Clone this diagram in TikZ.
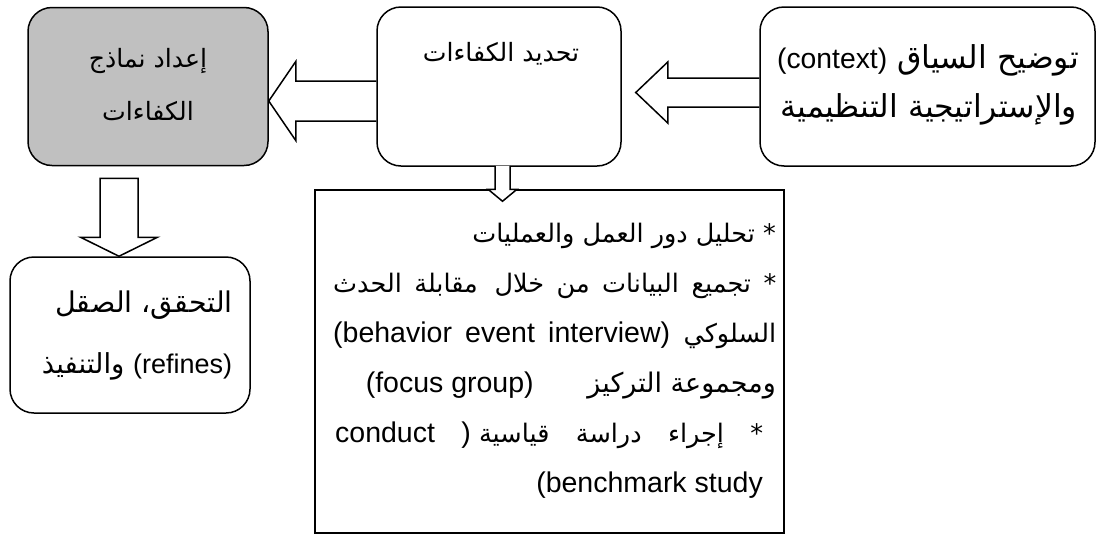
\documentclass[tikz,border=0pt]{standalone}
\usepackage{fontspec}
\setmainfont{Liberation Sans}
\newfontfamily\ar[Script=Arabic]{DejaVu Sans}
\TeXXeTstate=1
\usetikzlibrary{calc,backgrounds}
\definecolor{boxgray}{RGB}{192,192,192}
% Arabic at a given size; embedded Latin runs
\newcommand\ars[1]{\fontsize{#1}{#1}\selectfont\ar}
\newcommand\lr[2]{{\beginL\fontsize{#1}{#1}\selectfont\rmfamily #2\endL}}

\begin{document}
\begin{tikzpicture}[x=1pt,y=-1pt,
  box/.style={draw, line width=1.5pt, rounded corners=24pt, inner sep=0pt},
  plainbox/.style={draw, line width=1.5pt, inner sep=0pt},
  hollow/.style={draw, fill=white, line width=1.5pt, line join=miter},
  txt/.style={inner sep=0pt, anchor=base},
]
\useasboundingbox (0,0) rectangle (1097,536);

% process boxes
\node[box, fill=boxgray, minimum width=240pt, minimum height=158pt] (prep) at (148,86.5) {};
\node[box, minimum width=244pt, minimum height=159pt] (ident) at (499,86.5) {};
\node[box, minimum width=335pt, minimum height=159pt] (ctx) at (927.5,86.5) {};
\node[box, minimum width=240pt, minimum height=156pt] (refine) at (130,335) {};
\node[plainbox, minimum width=469pt, minimum height=343pt] (list) at (549.5,361.5) {};

% hollow block arrows behind the boxes
\begin{pgfonlayer}{background}
  % context -> identification
  \coordinate (a1s) at ($(ctx.west)+(0,6)$);
  \coordinate (a1t) at ($(ident.east)+(14,6)$);
  \draw[hollow] ($(a1s)+(0,-14.5)$) -- ($(a1t)+(32,-14.5)$) -- ($(a1t)+(32,-30.5)$)
    -- (a1t) -- ($(a1t)+(32,30.5)$) -- ($(a1t)+(32,14.5)$) -- ($(a1s)+(0,14.5)$);
  % identification -> models
  \coordinate (a2s) at ($(ident.west)+(0,14.5)$);
  \coordinate (a2t) at ($(prep.east)+(0,14.5)$);
  \draw[hollow] ($(a2s)+(0,-20)$) -- ($(a2t)+(27,-20)$) -- ($(a2t)+(27,-39.5)$)
    -- (a2t) -- ($(a2t)+(27,39.5)$) -- ($(a2t)+(27,20)$) -- ($(a2s)+(0,20)$);
\end{pgfonlayer}

% models -> validation
\coordinate (a3s) at ($(prep.south)+(-29,12)$);
\coordinate (a3t) at ($(refine.north)+(-11,0)$);
\draw[hollow] ($(a3s)+(-19,0)$) -- ($(a3t)+(-19,-19)$) -- ($(a3t)+(-38.5,-19)$)
  -- (a3t) -- ($(a3t)+(38.5,-19)$) -- ($(a3t)+(19,-19)$) -- ($(a3s)+(19,0)$) -- cycle;

% identification -> activities
\coordinate (a4s) at ($(ident.south)+(3.5,-1)$);
\coordinate (a4b) at ($(list.north)+(-47,0)$);
\coordinate (a4t) at ($(a4b)+(0,12)$);
\fill[white] ($(a4s)+(-7.5,0)$) rectangle ($(a4b)+(7.5,0)$);
\draw[hollow] ($(a4s)+(-7.5,0)$) -- ($(a4b)+(-7.5,0)$) -- ($(a4b)+(-14.5,0)$)
  -- (a4t) -- ($(a4b)+(14.5,0)$) -- ($(a4b)+(7.5,0)$) -- ($(a4s)+(7.5,0)$);

% box texts
\node[txt] (p1) at (148,67) {\ars{25.2}\beginR إعداد نماذج\endR};
\node[txt] (p2) at (148,120) {\ars{25.2}\beginR الكفاءات\endR};
\node[txt] (i1) at (501,61) {\ars{25.2}\beginR تحديد الكفاءات\endR};
\node[txt] (c1) at (928,68) {\ars{31.5}\beginR توضيح السياق \lr{28.3}{(context)}\endR};
\node[txt] (c2) at (929,117) {\ars{31.5}\beginR والإستراتيجية التنظيمية\endR};
\node[txt] (r1) at (144,312) {\ars{28.5}\beginR التحقق، الصقل\endR};
\node[txt] (r2) at (137,373) {\ars{27.5}\beginR\lr{27}{(refines)} والتنفيذ\endR};

% activity list (justified lines are boxes of fixed width)
\node[txt, anchor=base east] (l1) at (776,242) {\ars{25.5}\beginR * تحليل دور العمل والعمليات\endR};
\node[txt, anchor=base west] (l2) at (333,292) {\ars{25.5}\hbox to 443pt{\beginR * \hfill تجميع \hfill البيانات \hfill من \hfill خلال \hfill\hfill مقابلة \hfill الحدث\endR}};
\node[txt, anchor=base west] (l3) at (333,342) {\ars{25.5}\hbox to 443pt{\beginR السلوكي \hfill \lr{28.5}{(behavior\hfill\ event\hfill\ interview)}\endR}};
\node[txt, anchor=base east] (l4) at (776,392) {\ars{27}\hbox to 410pt{\beginR ومجموعة التركيز \hfill \lr{28.5}{(focus group)}\endR}};
\node[txt, anchor=base west] (l5) at (335,442) {\ars{25.5}\hbox to 428pt{\beginR * \hfill إجراء \hfill دراسة \hfill قياسية \lr{28.5}{)} \hfill \lr{28.5}{conduct}\endR}};
\node[txt, anchor=base east] (l6) at (763,492) {\fontsize{28.5}{28.5}\selectfont(benchmark study};
\end{tikzpicture}
\end{document}
